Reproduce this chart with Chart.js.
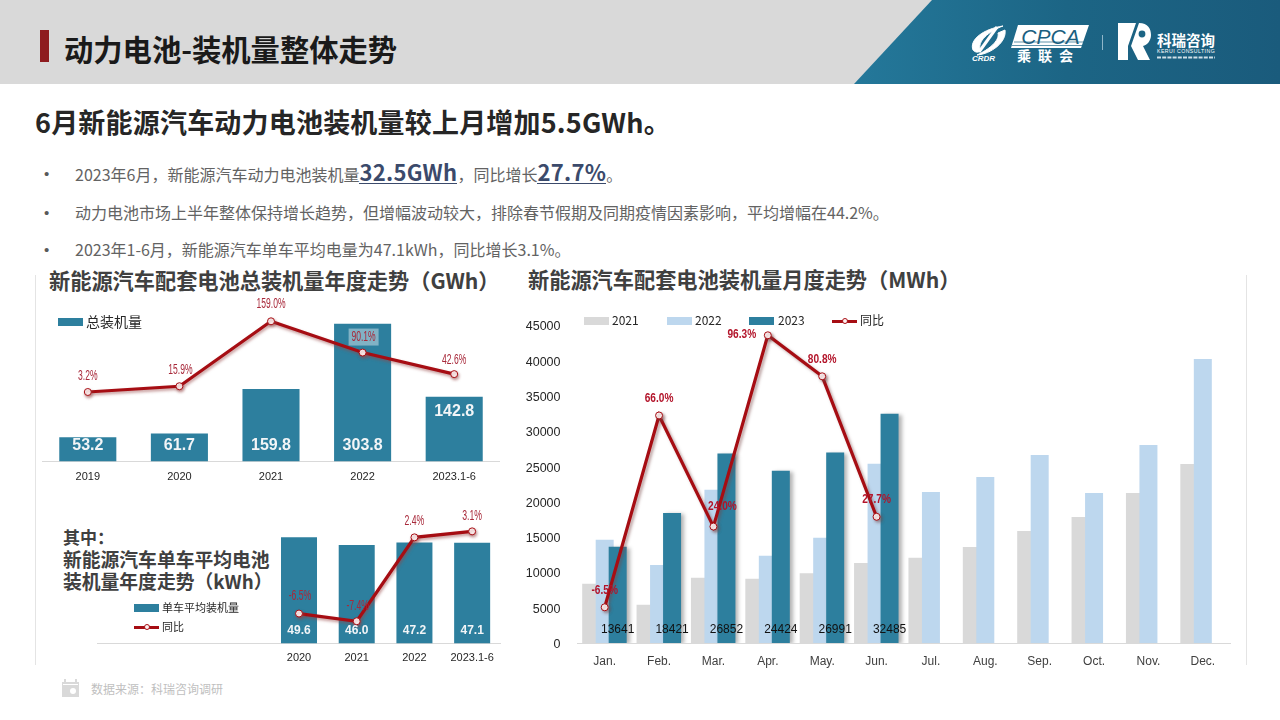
<!DOCTYPE html>
<html lang="zh">
<head>
<meta charset="utf-8">
<title>动力电池-装机量整体走势</title>
<script src="https://cdn.jsdelivr.net/npm/chart.js@4"></script>
<style>
  html, body { margin: 0; padding: 0; background: #fff; }
  body { width: 1280px; height: 720px; position: relative; overflow: hidden; font-family: "Noto Sans CJK SC", "Noto Sans", sans-serif; }
  .t { position: absolute; white-space: nowrap; }
  .b { font-weight: 700; }
  canvas { position: absolute; }
  .sub { color: #636363; font-size: 16px; left: 75px; height: 24px; line-height: 24px; }
  .dot { color: #595959; font: 15px/24px "Liberation Sans", sans-serif; left: 44px; height: 24px; }
  .hi { color: #3b4a6b; font-size: 22px; font-weight: 700; letter-spacing: 0.3px; border-bottom: 1px solid #3b4a6b; line-height: 24px; display: inline-block; }
  .ctitle { color: #404040; font-size: 21.2px; font-weight: 700; height: 28px; line-height: 28px; }
  .lg { font-family: "Noto Sans CJK SC", sans-serif; color: #262626; height: 18px; line-height: 18px; }
  .sw { position: absolute; }
</style>
</head>
<body>
<!-- Kopfzeile -->
<div style="position:absolute;left:0;top:0;width:1280px;height:84px;background:#d9d9d9"></div>
<svg style="position:absolute;left:0;top:0" width="1280" height="720">
  <defs>
    <linearGradient id="kopf" x1="0" x2="1" y1="0" y2="0">
      <stop offset="0" stop-color="#24789a"/><stop offset="0.5" stop-color="#1c6585"/><stop offset="1" stop-color="#1a5b7c"/>
    </linearGradient>
  </defs>
  <polygon points="854,84 932,0 1280,0 1280,84" fill="url(#kopf)"/>
  <rect x="40" y="30" width="9" height="32" fill="#8e1b1f"/>
  <!-- CPCA Logo -->
  <polygon points="1018,25 1089,25 1081,48 1011,48" fill="#fff"/>
  <path d="M1014 42 H1084 M1012 45.5 H1083" stroke="#1c6585" stroke-width="0.7"/>
  <g fill="none" stroke="#fff">
    <path d="M973 50 C969 40 983 29 1003 26 C992 30 978 39 980 49 C981 53 975 53 973 50 Z" fill="#fff" stroke-width="1"/>
    <path d="M1005 30 C1007 42 991 54 977 55 C988 50 1000 41 998 33 Z" fill="#fff" stroke-width="1"/>
    <path d="M997 27 L979 52" stroke-width="3"/>
  </g>
  <!-- Trennstrich -->
  <rect x="1102" y="35" width="1" height="15" fill="#8fb6c9"/>
  <!-- KR Logo -->
  <polygon points="1118,23 1136,23 1128,46 1128,60 1118,60" fill="#fff"/>
  <path d="M1139 23 C1148 23 1151 29 1151 35 C1151 41 1147 45 1143 46 L1150 60 L1138 60 L1131 46 Z" fill="#fff"/>
  <circle cx="1142" cy="34" r="3.4" fill="#1c6585"/>
  <path d="M1157 57.5 H1215" stroke="#cfe0e8" stroke-width="2" stroke-dasharray="4 1.2"/>
  <!-- Kalender Symbol unten -->
  <rect x="62" y="682" width="17" height="15" fill="#d9d9d9"/>
  <rect x="64" y="679" width="2" height="4" fill="#d9d9d9"/>
  <rect x="75" y="679" width="2" height="4" fill="#d9d9d9"/>
  <rect x="63" y="684" width="15" height="1" fill="#fff"/>
  <circle cx="73" cy="691" r="3" fill="#fff"/>
  <!-- Rahmenlinien -->
  <rect x="35" y="275" width="1" height="390" fill="#e4e4e4"/>
  <rect x="1246" y="275" width="1" height="390" fill="#e4e4e4"/>
</svg>
<div class="t" style="left:1013px;top:24px;width:75px;text-align:center;font:italic 21px/26px 'Liberation Sans';color:#1b5f80">CPCA</div>
<div class="t b" style="left:1017px;top:48px;font-size:14px;line-height:15px;letter-spacing:7px;color:#fff">乘联会</div>
<div class="t" style="left:972px;top:54px;font:italic bold 8px/9px 'Liberation Sans';color:#fff">CRDR</div>
<div class="t b" style="left:1157px;top:30px;font-size:14.5px;line-height:20px;color:#fff">科瑞咨询</div>
<div class="t" style="left:1157px;top:48px;font:5.2px/6px 'Liberation Sans';letter-spacing:0.45px;color:#fff">KERUI CONSULTING</div>

<div class="t b" style="left:64px;top:28px;font-size:29.3px;line-height:40px;color:#1a1a1a">动力电池-装机量整体走势</div>
<div class="t b" style="left:35px;top:104px;font-size:27px;line-height:36px;letter-spacing:0.2px;color:#262626">6月新能源汽车动力电池装机量较上月增加5.5GWh。</div>

<div class="t dot" style="top:162px">•</div>
<div class="t sub" style="top:159px">2023年6月，新能源汽车动力电池装机量<span class="hi">32.5GWh</span>，同比增长<span class="hi">27.7%</span>。</div>
<div class="t dot" style="top:201px">•</div>
<div class="t sub" style="top:200px">动力电池市场上半年整体保持增长趋势，但增幅波动较大，排除春节假期及同期疫情因素影响，平均增幅在44.2%。</div>
<div class="t dot" style="top:238px">•</div>
<div class="t sub" style="top:236.5px">2023年1-6月，新能源汽车单车平均电量为47.1kWh，同比增长3.1%。</div>

<div class="t ctitle" style="left:49px;top:266px">新能源汽车配套电池总装机量年度走势（GWh）</div>
<div class="t ctitle" style="left:528px;top:265px">新能源汽车配套电池装机量月度走势（MWh）</div>
<div class="t b" style="left:63px;top:526px;font-size:17px;line-height:22px;color:#404040">其中：</div>
<div class="t b" style="left:63px;top:547px;font-size:18.8px;line-height:24px;color:#404040">新能源汽车单车平均电池</div>
<div class="t b" style="left:63px;top:569px;font-size:18.8px;line-height:24px;color:#404040">装机量年度走势（kWh）</div>
<div class="t" style="left:91px;top:681px;font-size:12px;line-height:16px;color:#bfbfbf">数据来源：科瑞咨询调研</div>

<canvas id="jahrChart" style="left:42px;top:290px"></canvas>
<canvas id="einzelChart" style="left:97px;top:500px"></canvas>
<canvas id="monatChart" style="left:520px;top:300px"></canvas>

<script>
/* Daten */
const jahre = ['2019', '2020', '2021', '2022', '2023.1-6'];
const jahrMenge = [53.2, 61.7, 159.8, 303.8, 142.8];
const jahrZuwachs = [3.2, 15.9, 159.0, 90.1, 42.6];

const einzelJahre = ['', '', '', '2020', '2021', '2022', '2023.1-6'];
const einzelMenge = [null, null, null, 49.6, 46.0, 47.2, 47.1];
const einzelZuwachs = [null, null, null, -6.5, -7.4, 2.4, 3.1];

const monate = ['Jan.', 'Feb.', 'Mar.', 'Apr.', 'May.', 'Jun.', 'Jul.', 'Aug.', 'Sep.', 'Oct.', 'Nov.', 'Dec.'];
const werte2021 = [8400, 5430, 9250, 9110, 9900, 11330, 12090, 13600, 15870, 17850, 21250, 25360];
const werte2022 = [14640, 11050, 21720, 12370, 14920, 25400, 21400, 23520, 26640, 21250, 28060, 40240];
const werte2023 = [13641, 18421, 26852, 24424, 26991, 32485];
const monatZuwachs = [-6.5, 66.0, 24.0, 96.3, 80.8, 27.7];

/* Farben */
const teal = '#2d7f9e';
const hellblau = '#bdd7ee';
const grau = '#d9d9d9';
const rot = '#a60d13';

const achsenFont = "'Liberation Sans', sans-serif";

/* Schatten fuer Linien und einzelne Balken */
const schattenPlugin = {
    id: 'schatten',
    beforeDatasetDraw(chart, args) {
        const s = chart.data.datasets[args.index].schatten;
        chart.ctx.save();
        if (s) {
            chart.ctx.shadowColor = s[0];
            chart.ctx.shadowBlur = s[1];
            chart.ctx.shadowOffsetX = s[2];
            chart.ctx.shadowOffsetY = s[3];
        }
    },
    afterDatasetDraw(chart) {
        chart.ctx.restore();
    }
};

/* Balken innerhalb der Kategorie verschieben, damit sie sich ueberlappen */
const versatzPlugin = {
    id: 'versatz',
    afterDatasetsUpdate(chart) {
        chart.data.datasets.forEach((ds, i) => {
            if (!ds.xVersatz) return;
            chart.getDatasetMeta(i).data.forEach(el => { el.x += ds.xVersatz; });
        });
    }
};

/* Y-Beschriftung etwas tiefer setzen, sitzt sonst ueber der Position im Bild */
const tickVersatzPlugin = {
    id: 'tickVersatz',
    afterLayout(chart) {
        chart.scales.y.getLabelItems(chart.chartArea).forEach(item => {
            item.options.translation[1] += 1.5;
        });
    }
};

/* Wertebeschriftung an Balken und Linienpunkten */
const labelPlugin = {
    id: 'werteLabels',
    afterDatasetsDraw(chart) {
        const ctx = chart.ctx;
        chart.data.datasets.forEach((ds, i) => {
            const lab = ds.wertLabel;
            if (!lab) return;
            chart.getDatasetMeta(i).data.forEach((el, n) => {
                const wert = ds.data[n];
                if (wert === null || wert === undefined) return;
                const text = lab.format(wert);
                const off = lab.versatz[n];
                const x = el.x + off[0];
                const y = (lab.abBasis ? el.base : el.y) + off[1];
                ctx.save();
                ctx.font = lab.font;
                ctx.textAlign = 'center';
                ctx.textBaseline = 'middle';
                if (lab.hinterlegt && lab.hinterlegt[n]) {
                    ctx.fillStyle = 'rgba(255,255,255,0.4)';
                    ctx.fillRect(x - 15, y - 8, 30, 17);
                }
                ctx.translate(x, y);
                ctx.scale(lab.breite || 1, 1);
                ctx.fillStyle = lab.farbe;
                ctx.fillText(text, 0, 0);
                ctx.restore();
            });
        });
    }
};

function prozent(w) {
    return w.toFixed(1) + '%';
}

/* Grundeinstellungen fuer alle drei Charts */
function basisOptionen(padding, xHoehe, xFont, xPad, xFarbe) {
    return {
        responsive: false,
        animation: false,
        layout: { padding: padding, autoPadding: false },
        plugins: { legend: { display: false }, tooltip: { enabled: false } },
        scales: {
            x: {
                grid: { display: false, drawTicks: false },
                border: { display: true, color: grau, width: 1 },
                ticks: { color: xFarbe, font: { family: achsenFont, size: xFont }, padding: xPad, maxRotation: 0, autoSkip: false },
                afterFit(s) {
                    s.height = xHoehe;
                    s.paddingLeft = 0;
                    s.paddingRight = 0;
                }
            }
        }
    };
}

function setzeGroesse(canvas, b, h) {
    canvas.width = b;
    canvas.height = h;
    canvas.style.width = b + 'px';
    canvas.style.height = h + 'px';
}

/* Chart 1: Gesamtmenge pro Jahr */
const c1 = document.getElementById('jahrChart');
setzeGroesse(c1, 458, 200);
const opt1 = basisOptionen({ top: 12.7 }, 28.5, 11, 9, '#262626');
opt1.scales.y = { display: false, min: 0, max: 350 };
opt1.scales.y2 = { display: false, min: -150, max: 200 };
new Chart(c1, {
    data: {
        labels: jahre,
        datasets: [
            {
                type: 'line', label: '同比', data: jahrZuwachs, yAxisID: 'y2', order: 0,
                borderColor: rot, borderWidth: 3.2, tension: 0,
                pointRadius: 3.5, pointBorderWidth: 1, pointBackgroundColor: '#fff2f2', pointBorderColor: rot,
                schatten: ['rgba(150,70,70,0.55)', 3, 1, 2],
                wertLabel: {
                    format: prozent, font: "15px 'Liberation Sans'", farbe: '#a8293a', breite: 0.57,
                    versatz: [[0, -16], [1, -16], [0, -17], [1, -16], [0, -14]],
                    hinterlegt: [false, false, false, true, false]
                }
            },
            {
                type: 'bar', label: '总装机量', data: jahrMenge, yAxisID: 'y', order: 1,
                backgroundColor: teal, categoryPercentage: 1, barPercentage: 0.623,
                wertLabel: {
                    format: w => w.toFixed(1), font: "bold 16px 'Liberation Sans'", farbe: '#f2f5f7', abBasis: true,
                    versatz: [[0, -16], [0, -16], [0, -16], [0, -16], [0, -50]]
                }
            }
        ]
    },
    options: opt1,
    plugins: [schattenPlugin, labelPlugin]
});

/* Chart 2: Durchschnitt pro Fahrzeug */
const c2 = document.getElementById('einzelChart');
setzeGroesse(c2, 404, 180);
const opt2 = basisOptionen({ top: 15.1 }, 36.5, 11, 8, '#262626');
opt2.scales.y = { display: false, min: 0, max: 60 };
opt2.scales.y2 = { display: false, min: -10, max: 5 };
new Chart(c2, {
    data: {
        labels: einzelJahre,
        datasets: [
            {
                type: 'line', label: '同比', data: einzelZuwachs, yAxisID: 'y2', order: 0,
                borderColor: rot, borderWidth: 3.2, tension: 0,
                pointRadius: 3.5, pointBorderWidth: 1, pointBackgroundColor: '#fff2f2', pointBorderColor: rot,
                schatten: ['rgba(150,70,70,0.55)', 3, 1, 2],
                wertLabel: {
                    format: prozent, font: "14px 'Liberation Sans'", farbe: '#a8293a', breite: 0.62,
                    versatz: [null, null, null, [1, -17], [1, -15], [0, -16], [0, -15]]
                }
            },
            {
                type: 'bar', label: '单车平均装机量', data: einzelMenge, yAxisID: 'y', order: 1,
                backgroundColor: teal, categoryPercentage: 1, barPercentage: 0.624,
                wertLabel: {
                    format: w => w.toFixed(1), font: "bold 12px 'Liberation Sans'", farbe: '#f2f5f7', abBasis: true,
                    versatz: [null, null, null, [0, -12.5], [0, -12.5], [0, -12.5], [0, -12.5]]
                }
            }
        ]
    },
    options: opt2,
    plugins: [schattenPlugin, labelPlugin]
});

/* Chart 3: Monatswerte */
const c3 = document.getElementById('monatChart');
setzeGroesse(c3, 715, 375);
const opt3 = basisOptionen({ top: 25.5, right: 5 }, 32, 12, 11, '#404040');
opt3.scales.y = {
    min: 0, max: 45000,
    grid: { display: false, drawTicks: false },
    border: { display: false },
    ticks: { stepSize: 5000, format: { useGrouping: false }, color: '#262626', font: { family: achsenFont, size: 12.5 }, padding: 17 },
    afterFit(s) { s.width = 57.5; }
};
opt3.scales.y2 = { display: false, min: -20, max: 100 };
new Chart(c3, {
    data: {
        labels: monate,
        datasets: [
            {
                type: 'line', label: '同比', data: monatZuwachs, yAxisID: 'y2', order: 0,
                borderColor: rot, borderWidth: 3.2, tension: 0,
                pointRadius: 3.5, pointBorderWidth: 1, pointBackgroundColor: '#fff2f2', pointBorderColor: rot,
                schatten: ['rgba(120,70,70,0.5)', 3, 2, 2],
                wertLabel: {
                    format: prozent, font: "bold 12.5px 'Liberation Sans'", farbe: '#b3142a', breite: 0.81,
                    versatz: [[0, -17], [0, -17], [9, -20], [-26, -1], [0, -17], [0, -17]]
                }
            },
            {
                type: 'bar', label: '2023', data: werte2023, yAxisID: 'y', order: 1, grouped: false,
                backgroundColor: teal, categoryPercentage: 1, barPercentage: 0.331, xVersatz: 13,
                schatten: ['rgba(0,0,0,0.3)', 4, 3, 1],
                wertLabel: {
                    format: w => String(w), font: "12px 'Liberation Sans'", farbe: '#111', abBasis: true,
                    versatz: [[0, -13], [0, -13], [0, -13], [0, -13], [0, -13], [0, -13]]
                }
            },
            {
                type: 'bar', label: '2022', data: werte2022, yAxisID: 'y', order: 2, grouped: false,
                backgroundColor: hellblau, categoryPercentage: 1, barPercentage: 0.331
            },
            {
                type: 'bar', label: '2021', data: werte2021, yAxisID: 'y', order: 3, grouped: false,
                backgroundColor: grau, categoryPercentage: 1, barPercentage: 0.331, xVersatz: -13.5
            }
        ]
    },
    options: opt3,
    plugins: [schattenPlugin, versatzPlugin, tickVersatzPlugin, labelPlugin]
});

/* Legenden als eigene Elemente, Reihen und Farben kommen von den Datensaetzen */
function legende(name, farbe, istLinie, xSwatch, xText, y, groesse) {
    const sw = document.createElement('div');
    sw.className = 'sw';
    if (istLinie) {
        sw.style.cssText = 'left:' + xSwatch + 'px;top:' + (y - 1.5) + 'px;width:25px;height:3px;background:' + farbe;
        const p = document.createElement('div');
        p.className = 'sw';
        p.style.cssText = 'left:' + (xSwatch + 9.5) + 'px;top:' + (y - 3) + 'px;width:4px;height:4px;border:1px solid ' + farbe + ';border-radius:50%;background:#fff2f2';
        document.body.appendChild(sw);
        document.body.appendChild(p);
    } else {
        sw.style.cssText = 'left:' + xSwatch + 'px;top:' + (y - 4) + 'px;width:25px;height:8px;background:' + farbe;
        document.body.appendChild(sw);
    }
    const t = document.createElement('div');
    t.className = 't lg';
    t.style.left = xText + 'px';
    t.style.top = (y - 10) + 'px';
    t.style.fontSize = groesse + 'px';
    t.textContent = name;
    document.body.appendChild(t);
}

legende('总装机量', teal, false, 58, 86, 321.5, 14);
legende('单车平均装机量', teal, false, 134, 162, 608, 11);
legende('同比', rot, true, 134, 162, 627, 11);
legende('2021', grau, false, 584, 612, 321, 12);
legende('2022', hellblau, false, 667, 695, 321, 12);
legende('2023', teal, false, 749, 778, 321, 12);
legende('同比', rot, true, 832, 860, 321, 12);
</script>
</body>
</html>
